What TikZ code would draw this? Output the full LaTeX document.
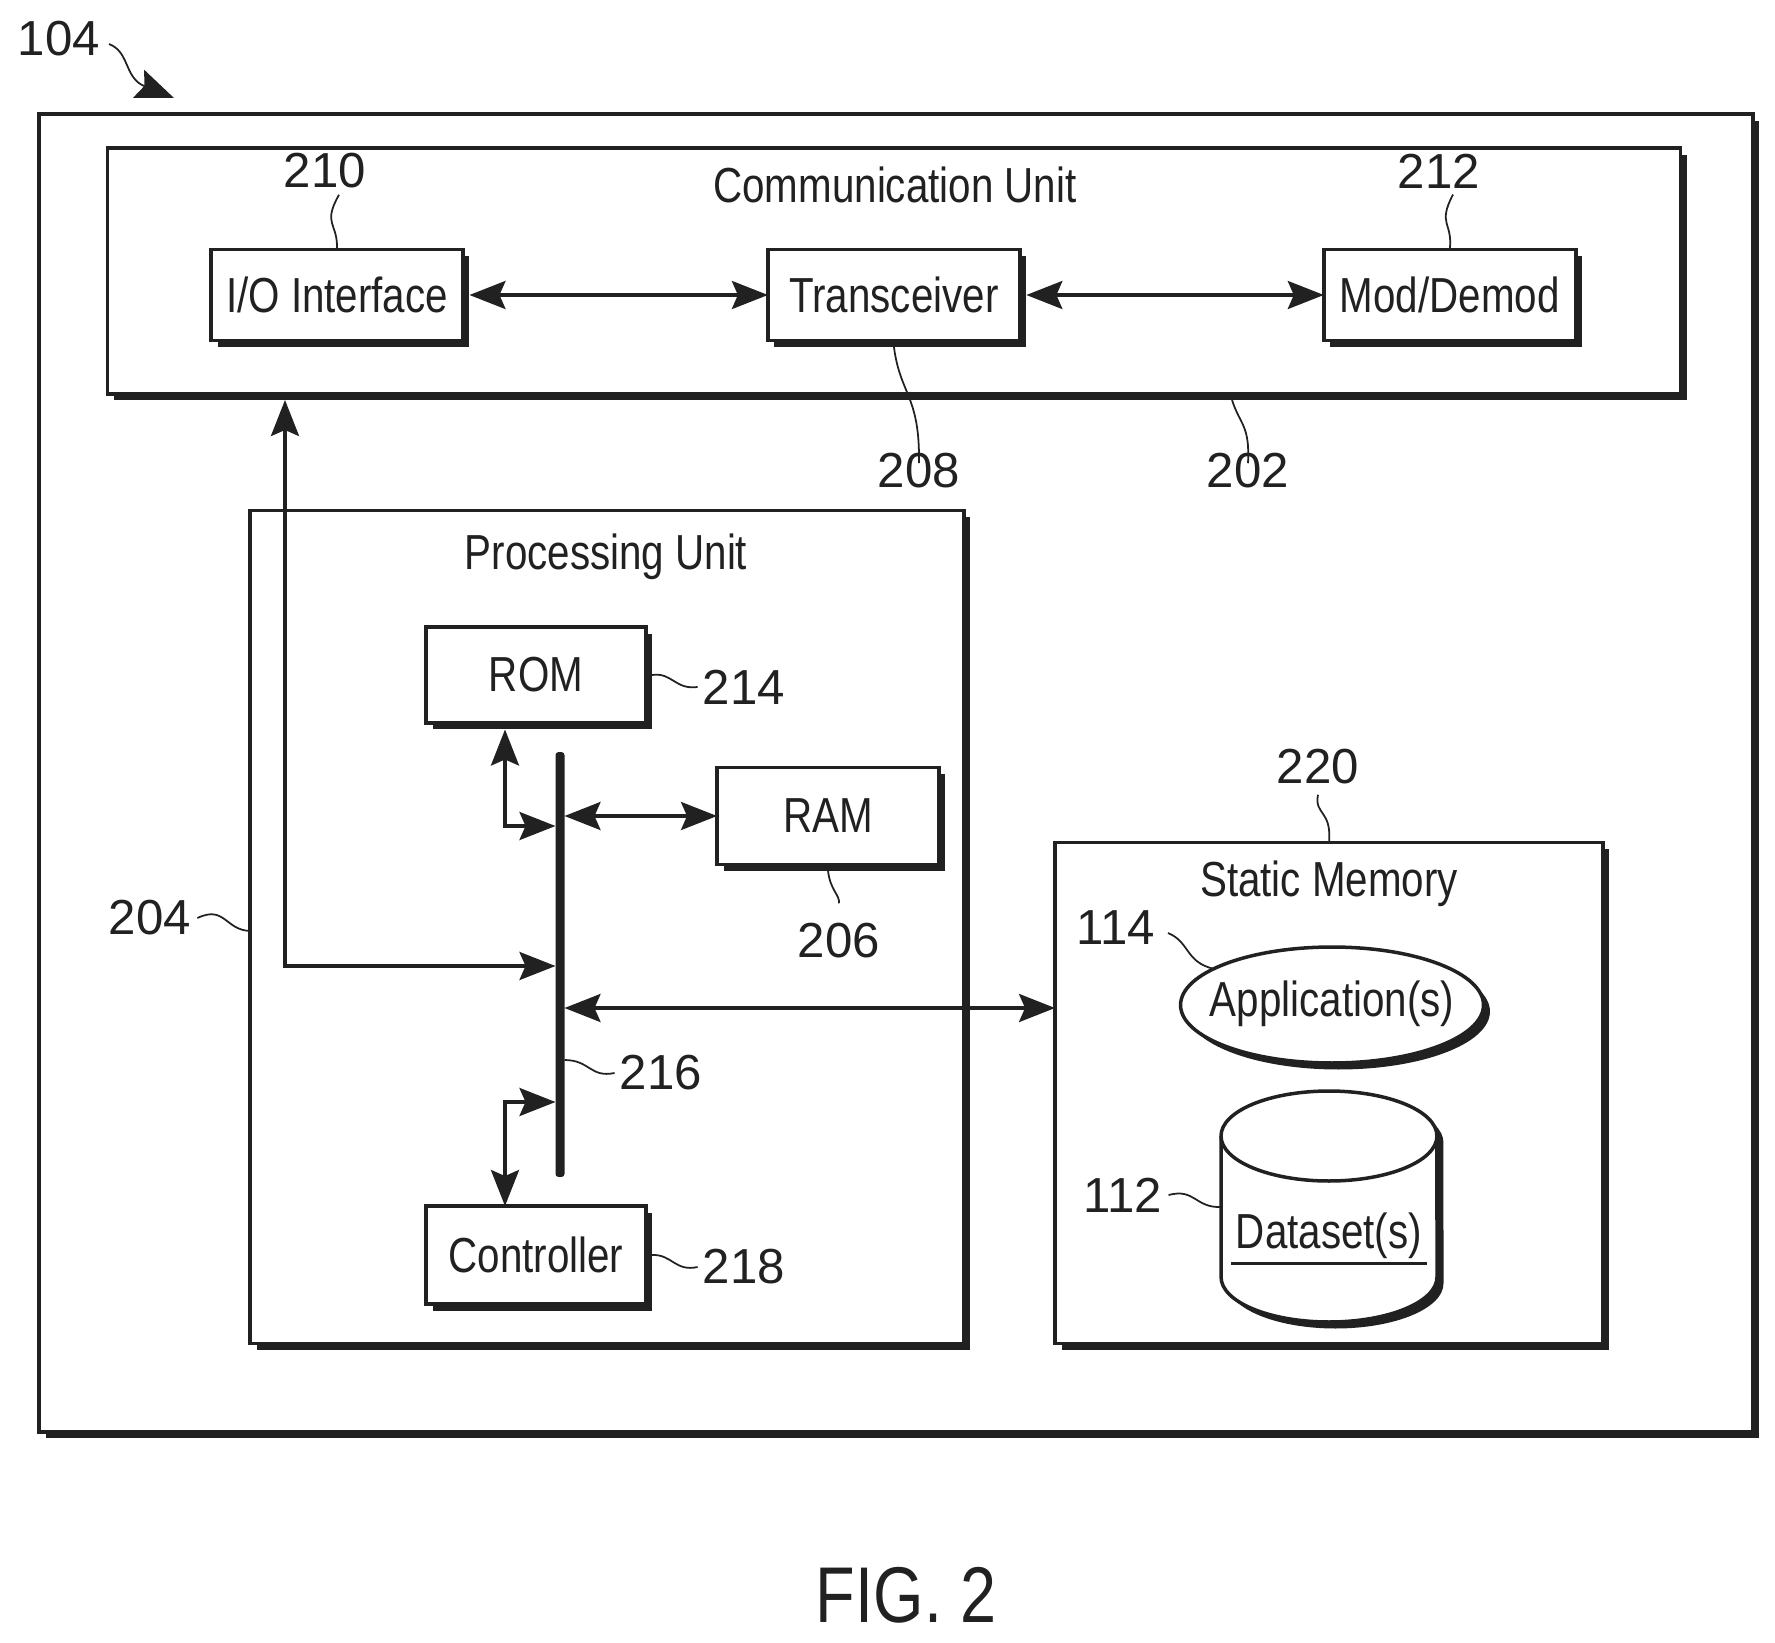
\documentclass[tikz,border=0pt]{standalone}
\usepackage{fontspec}
\setmainfont{Liberation Sans}[FakeStretch=0.82]
\newfontfamily\refdigits{Liberation Sans}
\usetikzlibrary{positioning}
\usetikzlibrary{arrows.meta}
\usetikzlibrary{shadows}
\usetikzlibrary{shapes.geometric}

\definecolor{inkgray}{gray}{0.13}
\tikzset{
 every node/.style={text=inkgray},
 block/.style={draw=inkgray, fill=white, line width=0.07cm, inner sep=0pt, outer sep=0pt,
    font=\fontsize{28}{30}\selectfont,
    general shadow={shadow xshift=0.13cm, shadow yshift=-0.13cm, fill=inkgray}},
 title/.style={font=\fontsize{28}{30}\selectfont},
 refnum/.style={font=\refdigits\fontsize{28}{30}\selectfont, inner sep=0pt},
 lead/.style={draw=inkgray, line width=0.035cm},
 bidir/.style={draw=inkgray, line width=0.07cm,
    {Stealth[length=0.72cm,width=0.56cm,inset=0.12cm]}-{Stealth[length=0.72cm,width=0.56cm,inset=0.12cm]}},
}

\begin{document}
\begin{tikzpicture}[x=0.02cm,y=-0.02cm]
\useasboundingbox (0,0) rectangle (1775,1643);

% Outer device
\node[block, minimum width=34.28cm, minimum height=26.36cm] (device) at (896,773) {};

% Communication unit
\node[block,
    minimum width=31.46cm,
    minimum height=4.92cm
] (comm) at (894,271) {};
\node[title] (commtitle) at (895,185) {Communication Unit};

\node[block,
    minimum width=5.04cm,
    minimum height=1.82cm
] (iface) at (337,295) {I/O Interface};

\node[block,
    minimum width=5.04cm,
    minimum height=1.82cm,
    right=6.1cm of iface
] (trans) {Transceiver};

\node[block,
    minimum width=5.04cm,
    minimum height=1.82cm,
    right=6.08cm of trans
] (moddem) {Mod/Demod};

% Processing unit
\node[block,
    minimum width=14.28cm,
    minimum height=16.66cm
] (proc) at (607,927) {};
\node[title] (proctitle) at (606,557) {Processing Unit};

\node[block,
    minimum width=4.4cm,
    minimum height=1.92cm
] (rom) at (536,675) {ROM};

\node[block,
    minimum width=4.44cm,
    minimum height=1.94cm
] (ram) at (828,816) {RAM};

\node[block,
    minimum width=4.4cm,
    minimum height=1.96cm
] (ctrl) at (536,1255) {Controller};

\node[fill=inkgray, minimum width=0.18cm, minimum height=8.5cm, inner sep=0pt, outer sep=0pt,
    rounded corners=0.06cm] (bus) at (560,964.5) {};

% Static memory
\node[block,
    minimum width=10.96cm,
    minimum height=10.02cm
] (static) at (1329,1093) {};
\node[title] (stattitle) at (1329,884) {Static Memory};

\node[block, ellipse,
    minimum width=6.06cm,
    minimum height=2.32cm,
    general shadow={shadow xshift=0.1cm, shadow yshift=-0.1cm, fill=inkgray}
] (apps) at (1332,1005) {};
\node[title] (appstitle) at (1332,1004) {Application(s)};

% Cylinder of the datasets
\path[block] (1221,1136) arc[start angle=180,end angle=0,x radius=2.16cm,y radius=0.9cm]
    -- (1437,1277) arc[start angle=0,end angle=-180,x radius=2.16cm,y radius=0.9cm] -- cycle;
\draw[lead, line width=0.07cm] (1221,1136) arc[start angle=180,end angle=360,x radius=2.16cm,y radius=0.9cm];
\coordinate (data) at (1221,1207);
\node[title] (datatitle) at (1329,1236) {Dataset(s)};
\coordinate (ulinea) at (1231,1263);
\coordinate (ulineb) at (1427,1263);
\draw[lead, line width=0.06cm] (ulinea) -- (ulineb);

% Arrows
\draw[bidir, shorten <=0.13cm] (iface.east) -- (trans.west);
\draw[bidir, shorten <=0.13cm] (trans.east) -- (moddem.west);

\coordinate (iotop) at (285,400);
\coordinate (iotap) at (285,966);
\draw[bidir] (iotop) -- (iotap) -- (bus.west |- iotap);

\coordinate (romtap) at (505,826);
\draw[bidir, shorten <=0.13cm] (rom.south -| romtap) -- (romtap) -- (bus.west |- romtap);

\draw[bidir] (bus.east |- ram.west) -- (ram.west);

\coordinate (memport) at (static.west |- 0,1008);
\draw[bidir] (bus.east |- memport) -- (memport);

\coordinate (ctltap) at (505,1102);
\draw[bidir] (ctrl.north -| ctltap) -- (ctltap) -- (bus.west |- ctltap);

% Reference numerals
\node[refnum] (n104) at (59,39) {104};
\coordinate (n104tip) at (174,98);
\draw[draw=inkgray, line width=0.035cm, -{Stealth[length=0.76cm,width=0.6cm,inset=0.12cm]}]
    (109,44) .. controls (130,52) and (124,78) .. (n104tip);

\node[refnum] (n210) at (325,171) {210};
\draw[lead] (n210.south) ++(14,6) .. controls (322,225) and (338,222) .. (iface.north);

\node[refnum] (n212) at (1439,171) {212};
\draw[lead] (n212.south) ++(14,6) .. controls (1437,225) and (1453,222) .. (moddem.north);

\node[refnum] (n208) at (919,471) {208};
\draw[lead] (trans.south) ++(0,6) .. controls (900,395) and (920,395) .. ([yshift=-0.2cm]n208.north);

\node[refnum] (n202) at (1248,471) {202};
\draw[lead] (1232,400) .. controls (1240,425) and (1250,425) .. ([yshift=-0.2cm]n202.north);

\node[refnum] (n204) at (150,918) {204};
\draw[lead] (n204.east) ++(6,0) .. controls (225,905) and (225,930) .. (proc.west |- 0,931);

\node[refnum] (n214) at (744,687) {214};
\draw[lead] (rom.east) ++(6,0) .. controls (672,672) and (675,690) .. ([xshift=-0.1cm]n214.west);

\node[refnum] (n206) at (839,941) {206};
\draw[lead] (ram.south) ++(0,6) .. controls (830,890) and (840,895) .. ([yshift=0.4cm]n206.north);

\node[refnum] (n216) at (661,1073) {216};
\draw[lead] (bus.east |- 0,1060) .. controls (590,1060) and (590,1078) .. ([xshift=-0.1cm]n216.west);

\node[refnum] (n218) at (744,1267) {218};
\draw[lead] (ctrl.east) ++(6,0) .. controls (672,1254) and (675,1272) .. ([xshift=-0.1cm]n218.west);

\node[refnum] (n220) at (1318,767) {220};
\draw[lead] ([yshift=-0.2cm]n220.south) .. controls (1314,815) and (1332,810) .. (static.north);

\node[refnum] (n114) at (1116,928) {114};
\draw[lead] (1168,933) .. controls (1190,942) and (1185,962) .. (apps.163);

\node[refnum] (n112) at (1123,1195) {112};
\draw[lead] (n112.east) ++(6,0) .. controls (1195,1188) and (1195,1208) .. (data);

\node[font=\fontsize{45}{48}\selectfont, inner sep=0pt] (figcap) at (906,1595) {FIG. 2};

\end{tikzpicture}
\end{document}
